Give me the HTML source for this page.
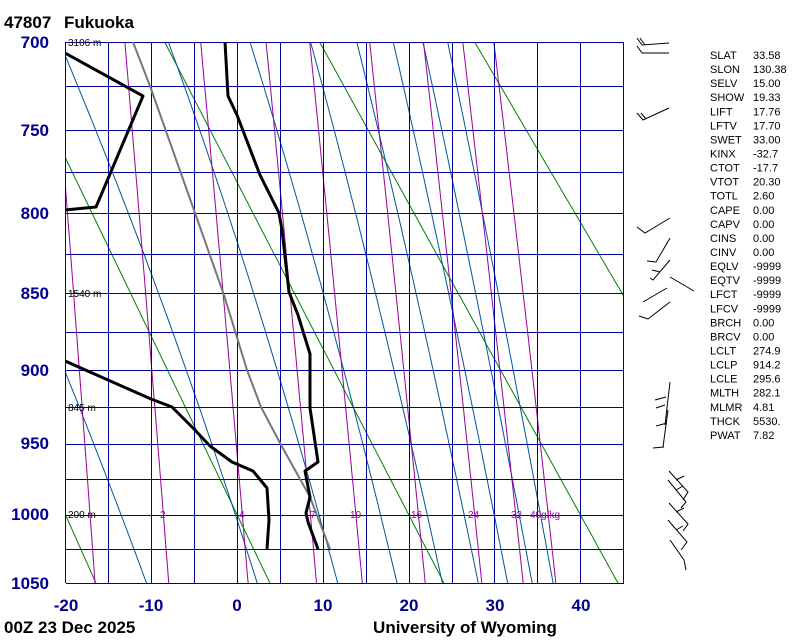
<!DOCTYPE html>
<html><head><meta charset="utf-8"><style>
html,body{margin:0;padding:0;background:#fff;width:800px;height:640px;overflow:hidden}
svg{display:block}
.pl{font:bold 17px "Liberation Sans",sans-serif;fill:#000090}
.st{font:11px "Liberation Sans",sans-serif;fill:#000}
.hm{font:10px "Liberation Sans",sans-serif;fill:#000}
.mr{font:10px "Liberation Sans",sans-serif;fill:#990099}
.tt{font:bold 17px "Liberation Sans",sans-serif;fill:#000}
</style></head><body>
<svg id="s" width="800" height="640" xmlns="http://www.w3.org/2000/svg">
<defs><clipPath id="c"><rect x="66" y="42" width="558" height="541"/></clipPath></defs>
<g id="bg" clip-path="url(#c)"></g>
<g id="grid" stroke="#000099" stroke-width="1" fill="none"></g>
<g clip-path="url(#c)" fill="none" stroke-linejoin="round">
<polyline stroke="#777" stroke-width="2" points="133,42 150,86 195,213 224,295 247,370 261,407 280,443 310,497 330,549"/>
<polyline stroke="#000" stroke-width="3" points="225,42 228,96 237,115 260,175 279,213 282,230 289,292 298,315 310,354 310,408 318,462 305,471 310,497 306,513 308,522 318,549"/>
<polyline stroke="#000" stroke-width="3" points="65,53 143,96 96,207 65,210"/>
<polyline stroke="#000" stroke-width="3" points="65,361 151,399 172,407 193,428 210,446 232,462 253,471 267,488 269,520 267,549"/>
</g>
<g class="hm">
<text x="68" y="46">3106 m</text><text x="68" y="297">1540 m</text><text x="68" y="411">845 m</text><text x="68" y="518">200 m</text>
</g>
<g class="mr">
<text x="160" y="518">2</text><text x="239" y="518">4</text><text x="310" y="518">7</text><text x="350" y="518">10</text><text x="411" y="518">16</text><text x="468" y="518">24</text><text x="511" y="518">32</text><text x="530" y="518">40g/kg</text>
</g>
<g class="pl" text-anchor="end">
<text x="49" y="48">700</text><text x="49" y="136">750</text><text x="49" y="219">800</text><text x="49" y="299">850</text><text x="49" y="376">900</text><text x="49" y="449">950</text><text x="49" y="520">1000</text><text x="49" y="589">1050</text>
</g>
<g class="pl" text-anchor="middle">
<text x="66" y="611">-20</text><text x="151" y="611">-10</text><text x="237" y="611">0</text><text x="323" y="611">10</text><text x="409" y="611">20</text><text x="495" y="611">30</text><text x="581" y="611">40</text>
</g>
<text class="tt" x="4" y="28">47807</text>
<text class="tt" x="64" y="28">Fukuoka</text>
<text class="tt" x="4" y="633">00Z 23 Dec 2025</text>
<text class="tt" x="465" y="633" text-anchor="middle">University of Wyoming</text>
<g stroke="#000" stroke-width="1" fill="none">
<polyline points="637,38 642,45 669,43"/><polyline points="637,46 642,53 669,53"/><line x1="640" y1="38" x2="645" y2="45"/>
<polyline points="637,113 643,120 669,108"/><line x1="641" y1="113" x2="646" y2="119"/>
<polyline points="637,227 645,233 670,218"/>
<polyline points="670,238 656,262 647,261"/>
<polyline points="670,260 653,280 650,278"/><line x1="660" y1="272" x2="652" y2="270"/>
<line x1="670" y1="277" x2="694" y2="291"/>
<line x1="667" y1="288" x2="643" y2="302"/>
<polyline points="670,302 648,319 639,316"/>
<line x1="670" y1="382" x2="665" y2="425"/><line x1="668" y1="410" x2="663" y2="447"/>
<line x1="666" y1="397" x2="655" y2="400"/><line x1="665" y1="405" x2="656" y2="408"/><line x1="667" y1="423" x2="656" y2="426"/><line x1="664" y1="447" x2="653" y2="448"/>
<polyline points="669,471 688,492 683,500"/><line x1="676" y1="480" x2="684" y2="476"/>
<polyline points="668,480 686,502 681,508"/><line x1="676" y1="490" x2="683" y2="486"/>
<polyline points="669,503 688,524 683,531"/><line x1="676" y1="512" x2="684" y2="508"/>
<polyline points="668,520 687,542 681,550"/><line x1="676" y1="530" x2="683" y2="526"/>
<polyline points="670,540 684,560 686,570"/>
</g>
<g class="st" id="stats"></g>
</svg>
<script>
var NS="http://www.w3.org/2000/svg",K=0.286;
var a=Math.pow(700,K),b=Math.pow(1050,K);
function Y(p){return 42+541*(Math.pow(p,K)-a)/(b-a);}
function X(t){return 237+8.58*t;}
function el(g,n,at){var e=document.createElementNS(NS,n);for(var k in at)e.setAttribute(k,at[k]);document.getElementById(g).appendChild(e);return e;}
function pl(g,pts,c){el(g,"polyline",{points:pts.map(function(q){return q[0].toFixed(1)+","+q[1].toFixed(1)}).join(" "),fill:"none",stroke:c,"stroke-width":1});}
function es(t){return 6.112*Math.exp(17.67*t/(t+243.5));}
var P=[];for(var p=680;p<=1070;p+=5)P.push(p);
[253.15,273.15,293.15,313.15,333.15].forEach(function(th){pl("bg",P.map(function(p){return [X(th*Math.pow(p/1000,K)-273.15),Y(p)]}),"#008000");});
function te(t,p){var e=es(t),w=0.622*e/(p-e),T=t+273.15;return T*Math.pow(1000/p,K)*Math.exp(2.5e6*w/(1004*T));}
for(var i=0;i<9;i++){var th=263+19.5*i;pl("bg",P.map(function(p){var lo=-80,hi=60;for(var j=0;j<50;j++){var m=(lo+hi)/2;if(te(m,p)<th)lo=m;else hi=m;}return [X(lo),Y(p)];}),"#00559a");}
[1,2,4,7,10,16,24,32,40].forEach(function(w){pl("bg",P.map(function(p){var e=w*p/(622+w),l=Math.log(e/6.112);return [X(243.5*l/(17.67-l)),Y(p)];}),"#990099");});
[700,725,750,775,800,825,850,875,900,925,950,975,1000,1025,1050].forEach(function(p){var y=Math.round(Y(p))+0.5;el("grid","line",{x1:66,x2:624,y1:y,y2:y});});
for(var t=-20;t<=45;t+=5){var x=Math.round(X(t))+0.5;el("grid","line",{x1:x,x2:x,y1:42,y2:583});}
var S=[["SLAT","33.58"],["SLON","130.38"],["SELV","15.00"],["SHOW","19.33"],["LIFT","17.76"],["LFTV","17.70"],["SWET","33.00"],["KINX","-32.7"],["CTOT","-17.7"],["VTOT","20.30"],["TOTL","2.60"],["CAPE","0.00"],["CAPV","0.00"],["CINS","0.00"],["CINV","0.00"],["EQLV","-9999"],["EQTV","-9999"],["LFCT","-9999"],["LFCV","-9999"],["BRCH","0.00"],["BRCV","0.00"],["LCLT","274.9"],["LCLP","914.2"],["LCLE","295.6"],["MLTH","282.1"],["MLMR","4.81"],["THCK","5530."],["PWAT","7.82"]];
S.forEach(function(r,i){var y=59+i*14.07;el("stats","text",{x:710,y:y}).textContent=r[0];el("stats","text",{x:753,y:y}).textContent=r[1];});
</script>
</body></html>
